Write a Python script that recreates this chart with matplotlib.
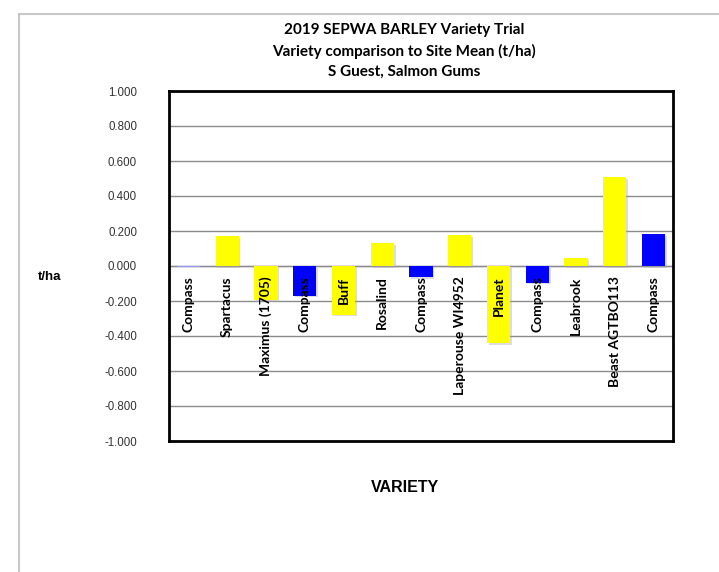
import matplotlib
matplotlib.use("Agg")
import matplotlib.pyplot as plt
import matplotlib.patheffects as pe
from matplotlib.patches import Rectangle

varieties = ["Compass", "Spartacus", "Maximus (1705)", "Compass", "Buff", "Rosalind",
             "Compass", "Laperouse WI4952", "Planet", "Compass", "Leabrook",
             "Beast AGTBO113", "Compass"]
values = [-0.004, 0.171, -0.194, -0.170, -0.278, 0.130, -0.063, 0.177, -0.442,
          -0.095, 0.046, 0.509, 0.183]
colors = ["#9999ff", "#ffff00", "#ffff00", "#0000ff", "#ffff00", "#ffff00", "#0000ff",
          "#ffff00", "#ffff00", "#0000ff", "#ffff00", "#ffff00", "#0000ff"]
yticks = [-1.0, -0.8, -0.6, -0.4, -0.2, 0.0, 0.2, 0.4, 0.6, 0.8, 1.0]

plt.rcParams['font.family'] = ['Lato', 'DejaVu Sans']

fig = plt.figure(figsize=(7.19, 5.72), dpi=100)
# outer chart border (left/top visible)
fig.patches.append(Rectangle((19/719, -0.1), 1.2, (572-14)/572 + 0.1, transform=fig.transFigure,
                             fill=False, edgecolor="#c8c8c8", linewidth=1.5))

ax = fig.add_axes([169/719, 131/572, 504/719, 350/572])
x = list(range(len(varieties)))
bars = ax.bar(x, values, width=0.6, color=colors, zorder=3)
for b in bars:
    b.set_path_effects([pe.SimplePatchShadow(offset=(1.2, -1.2), shadow_rgbFace="#aaaaaa", alpha=0.4),
                        pe.Normal()])
ax.set_xlim(-0.5, len(varieties) - 0.5)
ax.set_ylim(-1.0, 1.0)
ax.set_yticks(yticks)
ax.set_yticklabels([f"{v:.3f}" for v in yticks], fontsize=8.3, color="#333333",
                   fontfamily=['Liberation Sans'])
ax.tick_params(axis='y', length=0, pad=23)
ax.set_xticks([])
ax.grid(axis='y', color="#8c8c8c", linewidth=1.0, zorder=0)
ax.axhline(0, color="#a0a0c8", linewidth=1.0, zorder=1)
for s in ax.spines.values():
    s.set_linewidth(2)
    s.set_color("black")

for xi, name in zip(x, varieties):
    ax.text(xi, -0.06, name, rotation=90, ha='center', va='top', fontsize=10,
            fontweight='bold', zorder=4)

cx = 404/719
fig.text(cx, 1 - 30/572, "2019 SEPWA BARLEY Variety Trial", ha='center', va='center',
         fontsize=11, fontweight='bold')
fig.text(cx, 1 - 51/572, "Variety comparison to Site Mean (t/ha)", ha='center', va='center',
         fontsize=11, fontweight='bold')
fig.text(cx, 1 - 72/572, "S Guest, Salmon Gums", ha='center', va='center',
         fontsize=11, fontweight='bold')

fig.text(50/719, 1 - 277/572, "t/ha", ha='center', va='center', fontsize=9.5, fontweight='bold',
         fontfamily=['Liberation Sans'])
fig.text(405/719, 1 - 488/572, "VARIETY", ha='center', va='center', fontsize=11.5, fontweight='bold',
         fontfamily=['Liberation Sans'])

fig.savefig("out.png", dpi=100)
